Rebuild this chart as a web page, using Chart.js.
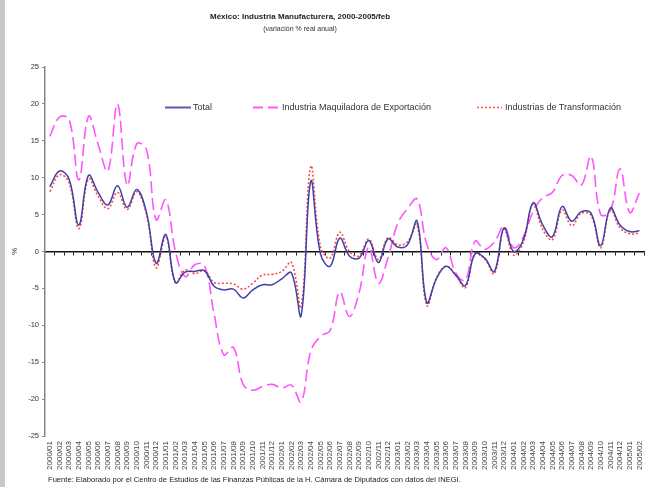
<!DOCTYPE html>
<html>
<head>
<meta charset="utf-8">
<script src="https://cdn.jsdelivr.net/npm/chart.js@4.4.1/dist/chart.umd.min.js"></script>
<style>
  html, body { margin: 0; padding: 0; background: #fff; }
  #wrap { position: relative; width: 654px; height: 487px; background: #fff; overflow: hidden; font-family: 'Liberation Sans', Arial, sans-serif; color: #222; }
  #c { position: absolute; left: 0; top: 0; }
  .bar { position: absolute; left: 0; top: 0; width: 5px; height: 487px; background: #c8c8c8; }
  #title { position: absolute; left: 0; width: 600px; top: 11px; text-align: center; font-weight: bold; font-size: 8px; line-height: 12px; }
  #sub { position: absolute; left: 0; width: 600px; top: 24px; text-align: center; font-size: 7px; line-height: 10px; color: #333; }
  .leg { position: absolute; top: 101px; height: 12px; font-size: 9px; line-height: 12px; color: #333; white-space: nowrap; }
  .leg svg { position: absolute; top: 0; }
  .leg span { position: absolute; top: 0; }
  #foot { position: absolute; left: 48px; top: 475px; font-size: 7.6px; line-height: 10px; color: #222; white-space: nowrap; }
</style>
</head>
<body>
<div id="wrap">
  <canvas id="c" width="654" height="487"></canvas>
  <div class="bar"></div>
  <div id="title">México: Industria Manufacturera, 2000-2005/feb</div>
  <div id="sub">(variación % real anual)</div>
  <div class="leg" style="left:165px;">
    <svg width="28" height="12"><line x1="0" y1="6.5" x2="26" y2="6.5" stroke="#5a5ab0" stroke-width="2"/></svg>
    <span style="left:28px;">Total</span>
  </div>
  <div class="leg" style="left:253px;">
    <svg width="30" height="12"><line x1="0" y1="6.5" x2="28" y2="6.5" stroke="#ff55ff" stroke-width="2" stroke-dasharray="10,5"/></svg>
    <span style="left:29px;">Industria Maquiladora de Exportación</span>
  </div>
  <div class="leg" style="left:477px;">
    <svg width="28" height="12"><line x1="0" y1="6.5" x2="25" y2="6.5" stroke="#ff5050" stroke-width="1.5" stroke-dasharray="2,2"/></svg>
    <span style="left:28px;">Industrias de Transformación</span>
  </div>
  <div id="foot">Fuente: Elaborado por el Centro de Estudios de las Finanzas Públicas de la H. Cámara de Diputados con datos del INEGI.</div>
</div>
<script>
const FONT = "'Liberation Sans', Arial, sans-serif";

const months = [
  '2000/01','2000/02','2000/03','2000/04','2000/05','2000/06','2000/07','2000/08','2000/09','2000/10','2000/11','2000/12',
  '2001/01','2001/02','2001/03','2001/04','2001/05','2001/06','2001/07','2001/08','2001/09','2001/10','2001/11','2001/12',
  '2002/01','2002/02','2002/03','2002/04','2002/05','2002/06','2002/07','2002/08','2002/09','2002/10','2002/11','2002/12',
  '2003/01','2003/02','2003/03','2003/04','2003/05','2003/06','2003/07','2003/08','2003/09','2003/10','2003/11','2003/12',
  '2004/01','2004/02','2004/03','2004/04','2004/05','2004/06','2004/07','2004/08','2004/09','2004/10','2004/11','2004/12',
  '2005/01','2005/02'
];

const total = [
  8.8, 10.9, 9.8, 3.6, 10.3, 8.0, 6.3, 8.9, 6.0, 8.4, 5.3, -1.6,
  2.3, -4.2, -2.8, -2.7, -2.6, -4.7, -5.2, -5.1, -6.3, -5.2, -4.5, -4.5,
  -3.7, -2.9, -8.7, 9.5, -0.3, -2.0, 1.8, -0.6, -0.9, 1.5, -1.5, 1.7,
  0.6, 0.9, 4.1, -6.9, -3.7, -2.0, -3.2, -4.6, -0.3, -0.9, -2.7, 3.2,
  0.0, 1.6, 6.6, 3.6, 2.0, 6.1, 4.1, 5.4, 5.2, 0.8, 5.9, 3.6,
  2.7, 2.8
];

const maquiladora = [
  15.6, 18.2, 17.9, 9.7, 18.3, 14.5, 10.9, 20.0, 9.0, 14.6, 13.8, 4.3,
  7.0, 0.0, -3.4, -1.8, -1.9, -8.5, -14.0, -13.0, -18.0, -18.8, -18.3, -18.0,
  -18.5, -18.1, -20.4, -13.5, -11.5, -10.7, -5.5, -8.8, -5.6, 0.6, -4.3, -0.8,
  3.8, 5.8, 7.1, 1.0, -1.1, 0.5, -2.9, -3.9, 1.4, 0.3, 1.3, 3.4,
  0.5, 2.0, 5.4, 7.3, 8.0, 10.3, 10.3, 9.0, 12.9, 5.0, 5.5, 11.2,
  5.3, 7.9
];

const transformacion = [
  8.1, 10.4, 9.3, 3.1, 9.8, 7.5, 5.8, 8.0, 5.7, 8.1, 5.0, -2.2,
  2.0, -4.3, -2.5, -3.0, -2.6, -4.2, -4.3, -4.4, -5.1, -4.3, -3.2, -3.1,
  -2.7, -1.5, -7.5, 11.5, 0.7, -0.9, 2.6, 0.0, -0.6, 1.7, -1.1, 1.9,
  0.9, 1.3, 3.6, -7.3, -3.6, -2.0, -3.2, -4.9, -0.3, -1.0, -3.0, 3.0,
  -0.5, 1.3, 6.4, 3.0, 1.6, 5.6, 3.5, 5.2, 4.9, 0.5, 5.7, 3.2,
  2.4, 2.5
];

const seriesNames = ['Total', 'Industria Maquiladora de Exportación', 'Industrias de Transformación'];
const yTicks = { min: -25, max: 25, step: 5 };

new Chart(document.getElementById('c'), {
  type: 'line',
  data: {
    labels: months,
    datasets: [
      { label: seriesNames[1], data: maquiladora, borderColor: '#ff55ff', borderWidth: 1.6, borderDash: [12, 5], order: 3 },
      { label: seriesNames[2], data: transformacion, borderColor: '#ff4848', borderWidth: 1.6, borderDash: [2, 2], order: 2 },
      { label: seriesNames[0], data: total, borderColor: '#4040a6', borderWidth: 1.5, order: 1 }
    ]
  },
  options: {
    responsive: false,
    animation: false,
    devicePixelRatio: 1,
    layout: { padding: { left: 0, right: 7, top: 67, bottom: 0 } },
    plugins: { legend: { display: false }, title: { display: false }, tooltip: { enabled: false } },
    elements: { point: { radius: 0 }, line: { tension: 0.4, fill: false } },
    scales: {
      x: {
        type: 'category', position: 'bottom', offset: true,
        grid: { display: false, drawTicks: false },
        border: { display: false },
        ticks: { autoSkip: false, minRotation: 90, maxRotation: 90, padding: 5, color: '#444', font: { size: 8, family: FONT } },
        afterFit: (s) => { s.height = 51; }
      },
      x0: {
        axis: 'x', type: 'category', position: { y: 0 }, offset: true,
        grid: { drawOnChartArea: false, drawTicks: true, tickLength: 3, color: '#222', lineWidth: 1, offset: true },
        border: { display: true, color: '#111', width: 1.5 },
        ticks: { display: false }
      },
      y: {
        min: yTicks.min, max: yTicks.max,
        ticks: { stepSize: yTicks.step, padding: 3, color: '#333', font: { size: 7.5, family: FONT } },
        grid: { drawOnChartArea: false, drawTicks: true, tickLength: 3, color: '#888' },
        border: { color: '#888', width: 1.5 },
        title: { display: true, text: '%', color: '#333', font: { size: 8, family: FONT }, padding: { top: 10, bottom: 0 } },
        afterFit: (s) => { s.width = 45; }
      }
    }
  }
});
</script>
</body>
</html>
